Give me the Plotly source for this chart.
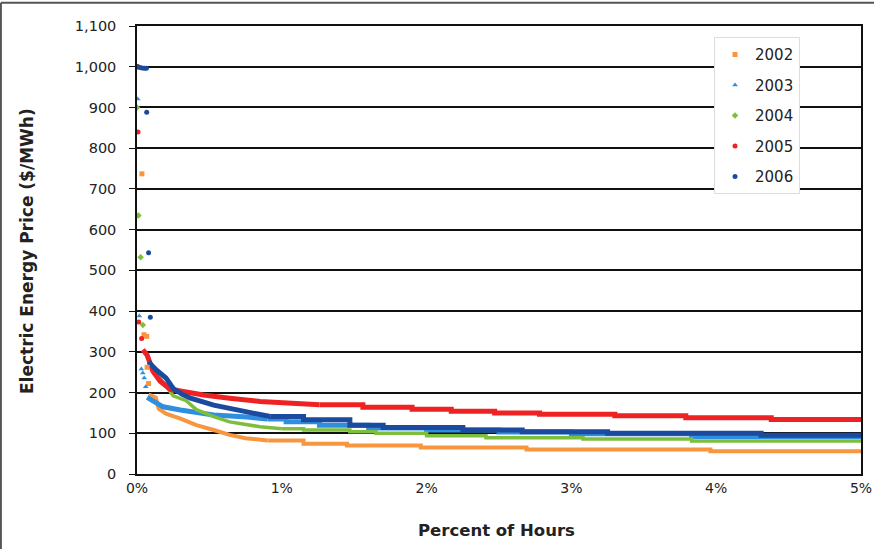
import plotly.graph_objects as go

years = ["2002", "2003", "2004", "2005", "2006"]
colors = ["#F7963E", "#2E8FE0", "#7DBE3C", "#EE2222", "#1B4A9E"]
symbols = ["square", "triangle-up", "diamond", "circle", "circle"]
widths = [4, 5, 3.5, 5, 5]

# isolated high-price hours (percent of hours, $/MWh)
spike_x = {
    "2002": [0.0, 0.034, 0.048, 0.067, 0.07, 0.08],
    "2003": [0.005, 0.016, 0.03, 0.04, 0.05, 0.06],
    "2004": [0.0, 0.01, 0.025, 0.04],
    "2005": [0.003, 0.007, 0.012, 0.032],
    "2006": [0.005, 0.02, 0.035, 0.05, 0.065, 0.067, 0.08, 0.092],
}
spike_y = {
    "2002": [1000, 737, 342, 338, 262, 222],
    "2003": [921, 388, 258, 248, 236, 214],
    "2004": [900, 635, 532, 366],
    "2005": [1000, 840, 373, 333],
    "2006": [1000, 998, 997, 996, 996, 888, 543, 385],
}

# price duration curves (percent of hours, $/MWh)
curve_x = {
    "2002": [0.08, 0.13, 0.15, 0.2, 0.3, 0.41, 0.53, 0.64, 0.75, 0.9, 1.15, 1.45, 1.96, 2.69, 3.96, 5.0],
    "2003": [0.07, 0.12, 0.18, 0.3, 0.53, 0.76, 0.9, 1.03, 1.26, 1.6, 2.0, 2.5, 3.0, 3.83, 5.0],
    "2004": [0.07, 0.11, 0.17, 0.25, 0.34, 0.41, 0.53, 0.64, 0.85, 1.0, 1.15, 1.47, 1.65, 2.0, 2.41, 3.08, 3.83, 5.0],
    "2005": [0.04, 0.07, 0.11, 0.16, 0.23, 0.34, 0.46, 0.64, 0.85, 1.26, 1.56, 1.9, 2.17, 2.47, 2.78, 3.3, 3.79, 4.38, 5.0],
    "2006": [0.08, 0.135, 0.2, 0.25, 0.31, 0.37, 0.53, 0.76, 0.92, 1.15, 1.47, 1.7, 2.25, 2.66, 3.25, 4.31, 5.0],
}
curve_y = {
    "2002": [195, 188, 160, 148, 136, 120, 108, 96, 88, 82, 74, 70, 65, 60, 56, 56],
    "2003": [188, 176, 165, 157, 145, 140, 135, 128, 120, 113, 108, 103, 99, 92, 91],
    "2004": [292, 260, 231, 192, 180, 158, 141, 128, 116, 111, 108, 104, 100, 94, 89, 86, 81, 81],
    "2005": [305, 292, 252, 228, 208, 200, 194, 186, 178, 170, 164, 159, 154, 150, 147, 143, 138, 134, 134],
    "2006": [275, 255, 236, 210, 196, 186, 169, 153, 141, 133, 120, 114, 108, 104, 100, 95, 95],
}

y_ticks = list(range(0, 1101, 100))
x_ticks = [0, 1, 2, 3, 4, 5]

FONT = "DejaVu Sans, Arial, sans-serif"
TXT = "#222222"

fig = go.Figure()
for yr, c, w in zip(years, colors, widths):
    xs, ys = curve_x[yr], curve_y[yr]
    # steep head drawn as a smooth decline, flat tail as price steps
    k = next(i for i, v in enumerate(xs) if v >= 0.9)
    fig.add_trace(go.Scatter(
        x=xs[:k + 1], y=ys[:k + 1], mode="lines",
        line=dict(color=c, width=w, shape="linear"),
        legendgroup=yr, showlegend=False, hoverinfo="skip",
    ))
    fig.add_trace(go.Scatter(
        x=xs[k:], y=ys[k:], mode="lines",
        line=dict(color=c, width=w, shape="hv"),
        legendgroup=yr, showlegend=False, hoverinfo="skip",
    ))
for yr, c, s in zip(years, colors, symbols):
    fig.add_trace(go.Scatter(
        x=spike_x[yr], y=spike_y[yr], mode="markers", name=yr,
        marker=dict(color=c, size=5, symbol=s, line=dict(width=0)),
        legendgroup=yr,
    ))

fig.update_layout(
    width=874, height=549,
    margin=dict(l=137, r=13, t=26, b=75, autoexpand=False),
    paper_bgcolor="white", plot_bgcolor="white",
    font=dict(family=FONT, size=14, color=TXT),
    legend=dict(
        x=0.797, y=0.975, xanchor="left", yanchor="top",
        bgcolor="white", bordercolor="#DDDDDD", borderwidth=1,
        font=dict(size=15, color=TXT),
        traceorder="grouped", tracegroupgap=8,
        itemwidth=30,
    ),
    xaxis=dict(
        range=[0, 5], tickvals=x_ticks, ticktext=[f"{v}%" for v in x_ticks],
        showgrid=False, zeroline=False, automargin=False,
        ticklabeloverflow="allow",
        showline=True, linecolor="#111111", linewidth=1.5, mirror=True,
        ticks="", tickfont=dict(size=14, color=TXT),
    ),
    yaxis=dict(
        range=[0, 1100], tickvals=y_ticks, tickformat=",",
        showgrid=True, gridcolor="#111111", gridwidth=1.5, zeroline=False,
        automargin=False, ticklabeloverflow="allow",
        showline=True, linecolor="#111111", linewidth=1.5, mirror=True,
        ticks="outside", ticklen=6, tickcolor="#111111",
        ticklabelstandoff=10,
        tickfont=dict(size=14.5, color=TXT),
    ),
    annotations=[
        dict(text="<b>Electric Energy Price ($/MWh)</b>", xref="paper", yref="paper",
             x=-0.151, y=0.497, xanchor="center", yanchor="middle", textangle=-90,
             showarrow=False, font=dict(size=17, color=TXT)),
        dict(text="<b>Percent of Hours</b>", xref="paper", yref="paper",
             x=0.496, y=-0.125, xanchor="center", yanchor="middle",
             showarrow=False, font=dict(size=16.5, color=TXT)),
    ],
    shapes=[
        dict(type="line", xref="paper", yref="paper", x0=-0.188, x1=1.03, y0=1.052, y1=1.052,
             line=dict(color="#555555", width=2)),
        dict(type="line", xref="paper", yref="paper", x0=-0.188, x1=-0.188, y0=-0.17, y1=1.052,
             line=dict(color="#555555", width=2)),
    ],
)

fig.write_html(
    "out.html",
    config={"displayModeBar": False},
    post_script="document.body.style.margin='0';document.body.style.overflow='hidden';",
)
